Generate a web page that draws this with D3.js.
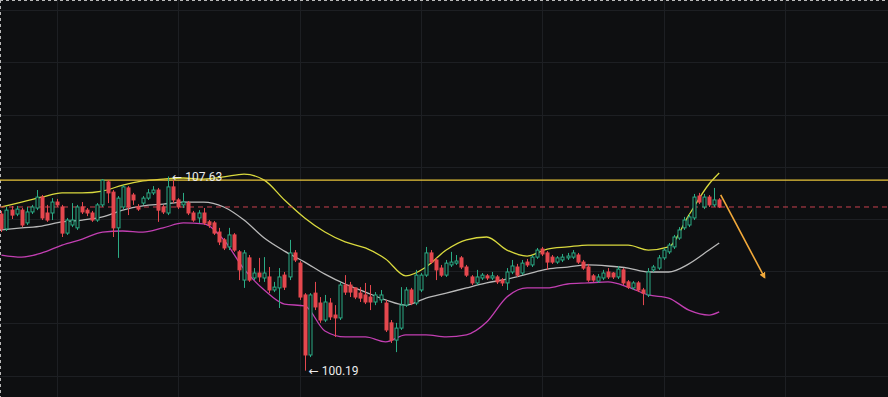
<!DOCTYPE html>
<html>
<head>
<meta charset="utf-8">
<script src="https://cdn.jsdelivr.net/npm/d3@7"></script>
<style>
  html, body { margin: 0; padding: 0; background: #0e0f11; overflow: hidden; }
  svg { display: block; }
</style>
</head>
<body>
<div id="chart"></div>
<script>
// candle data, one value per bar (index 0 .. 142)
var opens = [106.19,105.62,106.34,106.19,106.34,105.85,106.27,106.42,106.84,106.23,106.23,106.65,106.46,105.46,105.77,105.66,106.46,106.34,106.23,105.96,
  106.54,107.42,107.03,105.66,106.46,107.19,106.92,106.46,106.61,106.80,107.00,107.11,106.46,106.23,107.23,106.73,106.54,106.61,106.23,106.04,
  106.23,105.89,105.85,105.50,105.20,104.93,105.39,104.74,103.66,104.51,103.74,103.93,103.74,103.78,103.28,103.36,103.85,103.78,104.70,104.31,
  103.09,100.79,103.16,102.78,102.13,102.78,102.32,102.21,103.47,103.47,103.36,103.16,103.09,103.01,102.82,102.90,102.78,102.02,101.36,101.82,
  102.70,103.28,102.78,103.28,103.85,104.70,104.43,104.12,103.85,104.24,104.31,104.51,104.16,103.78,103.55,103.74,103.82,103.74,103.78,103.66,
  103.55,103.97,104.16,103.93,104.35,104.24,104.54,104.85,104.70,104.54,104.35,104.43,104.51,104.54,104.62,104.35,104.16,103.82,103.62,103.74,
  103.97,103.93,103.78,104.05,103.59,103.36,103.55,103.28,103.09,104.05,104.12,104.51,104.74,104.93,105.27,105.66,105.77,106.04,106.88,106.46,
  106.84,106.54,106.73];
var highs = [106.31,106.46,106.50,106.50,106.42,106.46,106.54,107.11,106.92,106.54,106.80,106.77,106.54,106.04,106.61,106.54,106.65,106.42,106.31,106.61,
  107.53,107.49,107.11,106.88,107.30,107.26,107.00,106.57,106.88,107.15,107.26,107.19,106.54,107.63,107.49,106.80,107.00,106.69,106.31,106.34,
  106.42,105.96,105.92,105.66,105.27,105.66,105.46,104.81,104.81,104.62,104.12,104.51,104.54,104.16,103.59,104.12,103.97,105.20,104.81,104.39,
  103.16,103.16,103.59,103.01,103.09,102.97,102.70,103.59,103.85,103.59,103.36,103.39,103.55,103.47,103.20,103.28,102.90,102.13,102.02,103.39,
  103.39,103.36,104.05,103.93,104.93,104.81,104.51,104.24,104.43,104.74,104.62,104.58,104.24,103.85,104.05,103.93,103.89,103.97,103.85,103.74,
  104.12,104.43,104.28,104.43,104.47,104.62,104.89,104.93,104.77,104.62,104.58,104.66,104.70,104.81,104.70,104.43,104.28,103.89,103.89,104.05,
  104.12,103.97,104.20,104.12,103.66,103.62,103.62,103.36,104.12,104.24,104.62,104.89,105.08,105.39,105.69,106.08,106.19,106.96,107.00,106.96,
  106.92,107.19,106.80];
var lows = [105.50,105.54,106.00,106.11,105.69,105.77,106.19,106.34,105.96,105.89,105.96,106.46,105.31,105.39,105.69,105.58,106.19,106.11,105.89,105.89,
  106.46,106.61,105.31,104.51,106.38,106.15,106.54,106.31,106.54,106.73,106.92,105.89,106.19,106.15,106.61,106.38,106.42,106.15,105.89,105.85,
  105.77,105.66,105.39,105.00,104.81,104.81,104.74,103.66,103.36,103.59,103.66,103.59,103.59,103.16,103.20,102.59,103.28,103.66,104.35,102.90,
  100.19,100.71,102.51,102.02,102.05,102.13,101.48,102.13,103.09,103.01,102.93,102.82,102.74,102.51,102.70,102.78,101.67,101.25,100.90,101.75,
  102.63,102.70,102.70,103.20,103.78,104.28,103.66,103.78,103.78,104.16,104.24,104.08,103.78,103.47,103.47,103.66,103.66,103.66,103.51,103.43,
  103.28,103.89,103.78,103.85,104.16,104.16,104.47,104.58,104.05,104.28,104.28,104.35,104.43,104.47,104.28,104.05,103.59,103.59,103.55,103.66,
  103.70,103.70,103.70,103.47,103.32,103.28,103.20,102.70,103.01,103.97,104.05,104.43,104.66,104.85,105.20,105.58,105.69,105.96,106.57,106.38,
  106.46,106.46,106.42];
var closes = [105.62,106.34,106.15,106.38,105.77,106.27,106.46,106.84,106.04,105.96,106.65,106.54,105.46,105.96,105.96,106.46,106.27,106.23,105.96,106.54,
  107.49,107.00,105.66,106.80,107.23,106.46,106.73,106.38,106.80,107.00,107.11,106.34,106.27,107.23,106.73,106.46,106.65,106.23,105.96,106.23,
  105.85,105.77,105.46,105.12,104.89,105.39,104.81,104.05,104.70,103.66,103.93,103.78,103.93,103.28,103.39,103.78,103.39,104.70,104.43,103.01,
  100.79,103.09,102.63,102.13,102.82,102.25,102.21,103.47,103.20,103.20,103.01,102.97,102.82,102.82,103.09,103.09,101.75,101.36,101.82,102.70,
  103.28,102.78,103.85,103.85,104.70,104.35,104.05,103.85,104.31,104.35,104.39,104.16,103.85,103.55,103.78,103.85,103.74,103.82,103.59,103.55,
  103.97,104.20,103.85,104.31,104.24,104.54,104.81,104.66,104.35,104.35,104.51,104.54,104.58,104.70,104.35,104.12,103.66,103.66,103.78,103.93,
  103.78,103.78,104.08,103.55,103.39,103.55,103.28,103.16,103.97,104.16,104.51,104.81,105.00,105.31,105.58,105.96,106.08,106.84,106.65,106.84,
  106.54,106.73,106.46];

var bandIdx = [0,4,8,12,16,20,24,28,32,36,40,44,48,52,56,60,64,68,72,76,80,84,88,92,96,100,104,108,112,116,120,124,128,132,136,140,142];
var upperBand = [106.46,106.65,106.84,107.00,107.00,107.07,107.30,107.46,107.53,107.57,107.53,107.61,107.72,107.49,106.73,106.04,105.50,105.12,104.89,104.47,
  103.82,104.16,104.81,105.20,105.31,104.81,104.58,104.85,104.93,105.00,105.00,105.00,104.81,104.93,106.15,107.34,107.76];
var midBand = [105.58,105.66,105.73,105.89,105.96,106.08,106.34,106.50,106.57,106.65,106.65,106.46,105.96,105.27,104.77,104.35,103.89,103.51,103.20,102.90,
  102.70,102.97,103.16,103.36,103.55,103.70,103.89,104.08,104.16,104.24,104.20,104.12,103.97,103.97,104.28,104.81,105.08];
var lowerBand = [104.62,104.54,104.70,105.00,105.23,105.50,105.54,105.50,105.66,105.85,105.81,105.20,104.08,103.28,102.74,102.67,101.71,101.48,101.48,101.29,
  101.56,101.56,101.48,101.56,102.05,103.01,103.36,103.36,103.51,103.55,103.59,103.39,103.09,102.97,102.51,102.32,102.44];

var priceTicks = [100,102,104,106,108,110,112,114];
var timeTicks = [11,35,59,83,107,131,155];

var resistLevel = 107.49;   // solid yellow line
var lastLevel = 106.46;     // dashed red line
var hiIdx = 33, hiVal = 107.63;
var loIdx = 60, loVal = 100.19;
var arrowFrom = [142.3, 106.92], arrowTo = [151, 103.75];

var width = 888, height = 397;

var svg = d3.select("#chart")
  .append("svg")
  .attr("width", width)
  .attr("height", height);

svg.append("rect")
  .attr("width", width)
  .attr("height", height)
  .attr("fill", "#0e0f11");

var x = d3.scaleLinear().domain([0, 142]).range([1.4, 719.2]);
var y = d3.scaleLinear().domain([100, 114]).range([375.6, 10.2]);

// grid
var yGrid = d3.axisRight(y).tickValues(priceTicks).tickSize(width).tickFormat("");
var xGrid = d3.axisBottom(x).tickValues(timeTicks).tickSize(height).tickFormat("");

svg.append("g").attr("class", "grid").call(yGrid);
svg.append("g").attr("class", "grid").call(xGrid);
svg.selectAll(".grid .domain").remove();
svg.selectAll(".grid line")
  .attr("stroke", "#1d1f23")
  .attr("stroke-width", 1)
  .attr("shape-rendering", "crispEdges");

// dashed frame on top and left
svg.append("line")
  .attr("x1", 0).attr("x2", width).attr("y1", 0.5).attr("y2", 0.5)
  .attr("stroke", "#b8b8b8").attr("stroke-dasharray", "3,3");
svg.append("line")
  .attr("x1", 0.5).attr("x2", 0.5).attr("y1", 0).attr("y2", height)
  .attr("stroke", "#b8b8b8").attr("stroke-dasharray", "3,3");

// bands
function band(vals) {
  return bandIdx.map(function(d, k) { return [d, vals[k]]; });
}
var bandLine = d3.line()
  .x(function(d) { return x(d[0]); })
  .y(function(d) { return y(d[1]); })
  .curve(d3.curveMonotoneX);

svg.append("path").datum(band(lowerBand))
  .attr("d", bandLine).attr("fill", "none")
  .attr("stroke", "#c23fb2").attr("stroke-width", 1.3);
svg.append("path").datum(band(midBand))
  .attr("d", bandLine).attr("fill", "none")
  .attr("stroke", "#b9b9b9").attr("stroke-width", 1.3);
svg.append("path").datum(band(upperBand))
  .attr("d", bandLine).attr("fill", "none")
  .attr("stroke", "#d9d93e").attr("stroke-width", 1.3);

// level lines
svg.append("line")
  .attr("x1", 0).attr("x2", width)
  .attr("y1", y(resistLevel)).attr("y2", y(resistLevel))
  .attr("stroke", "#e8c53a").attr("stroke-width", 1.2);
svg.append("line")
  .attr("x1", 0).attr("x2", width)
  .attr("y1", y(lastLevel)).attr("y2", y(lastLevel))
  .attr("stroke", "#c8404f").attr("stroke-width", 1)
  .attr("stroke-dasharray", "5,4");

// candles
var candles = closes.map(function(c, i) {
  return { i: i, o: opens[i], h: highs[i], l: lows[i], c: c };
});
var up = "#2bab85", down = "#e5484f";

var g = svg.append("g");
g.selectAll(".wick")
  .data(candles)
  .enter()
  .append("line")
  .attr("x1", function(d) { return Math.round(x(d.i)) + 0.5; })
  .attr("x2", function(d) { return Math.round(x(d.i)) + 0.5; })
  .attr("y1", function(d) { return y(d.h); })
  .attr("y2", function(d) { return y(d.l); })
  .attr("stroke", function(d) { return d.c >= d.o ? up : down; })
  .attr("stroke-width", 1);

g.selectAll(".body")
  .data(candles)
  .enter()
  .append("rect")
  .attr("x", function(d) { return Math.round(x(d.i)) - 1; })
  .attr("y", function(d) { return y(Math.max(d.o, d.c)); })
  .attr("width", 3)
  .attr("height", function(d) { return Math.max(1, Math.abs(y(d.o) - y(d.c))); })
  .attr("fill", function(d) { return d.c >= d.o ? "#0e0f11" : down; })
  .attr("stroke", function(d) { return d.c >= d.o ? up : down; })
  .attr("stroke-width", 1);

// high / low labels
svg.append("text")
  .attr("x", x(hiIdx) + 4)
  .attr("y", y(hiVal))
  .attr("dy", "0.35em")
  .attr("fill", "#ececec")
  .style("font", "12px Roboto, 'DejaVu Sans', sans-serif")
  .text("\u2190 " + hiVal.toFixed(2));
svg.append("text")
  .attr("x", x(loIdx) + 4)
  .attr("y", y(loVal))
  .attr("dy", "0.35em")
  .attr("fill", "#ececec")
  .style("font", "12px Roboto, 'DejaVu Sans', sans-serif")
  .text("\u2190 " + loVal.toFixed(2));

// projection arrow
svg.append("defs").append("marker")
  .attr("id", "head")
  .attr("viewBox", "0 0 10 10")
  .attr("refX", 8).attr("refY", 5)
  .attr("markerWidth", 4).attr("markerHeight", 4)
  .attr("orient", "auto")
  .append("path")
  .attr("d", "M0,0L10,5L0,10z")
  .attr("fill", "#f2a93a");

svg.append("line")
  .attr("x1", x(arrowFrom[0])).attr("y1", y(arrowFrom[1]))
  .attr("x2", x(arrowTo[0])).attr("y2", y(arrowTo[1]))
  .attr("stroke", "#f2a93a")
  .attr("stroke-width", 1.6)
  .attr("marker-end", "url(#head)");
</script>
</body>
</html>
